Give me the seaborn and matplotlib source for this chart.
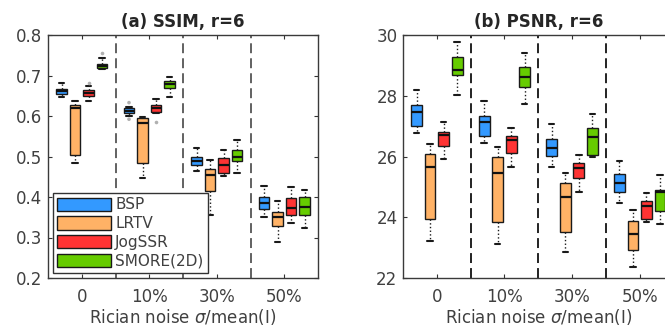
import numpy as np
import pandas as pd
import matplotlib
matplotlib.use("Agg")
import matplotlib.pyplot as plt
import seaborn as sns

sns.set_style("ticks")
plt.rcParams["font.family"] = ["DejaVu Sans"]

noise_levels = ["0", "10%", "30%", "50%"]
methods = ["BSP", "LRTV", "JogSSR", "SMORE(2D)"]
colors = ["#3399ff", "#ffb266", "#ff3333", "#66cc00"]

# five-number summaries per noise level: [low whisker, Q1, median, Q3, high whisker]
ssim_bsp = [[0.646, 0.655, 0.661, 0.667, 0.682],
            [0.600, 0.607, 0.613, 0.619, 0.623],
            [0.463, 0.478, 0.490, 0.498, 0.522],
            [0.350, 0.370, 0.385, 0.401, 0.428]]
ssim_lrtv = [[0.485, 0.504, 0.619, 0.627, 0.638],
             [0.447, 0.485, 0.582, 0.594, 0.598],
             [0.356, 0.414, 0.455, 0.469, 0.492],
             [0.288, 0.329, 0.350, 0.364, 0.391]]
ssim_jog = [[0.638, 0.650, 0.658, 0.664, 0.673],
            [0.607, 0.611, 0.619, 0.628, 0.642],
            [0.451, 0.459, 0.479, 0.496, 0.516],
            [0.337, 0.355, 0.373, 0.397, 0.424]]
ssim_smore = [[0.715, 0.718, 0.724, 0.728, 0.742],
              [0.647, 0.669, 0.678, 0.687, 0.696],
              [0.459, 0.490, 0.500, 0.516, 0.541],
              [0.323, 0.356, 0.375, 0.400, 0.418]]

psnr_bsp = [[26.79, 27.01, 27.48, 27.70, 28.19],
            [26.44, 26.66, 27.12, 27.32, 27.84],
            [25.67, 26.02, 26.27, 26.59, 27.06],
            [24.47, 24.82, 25.12, 25.43, 25.86]]
psnr_lrtv = [[23.21, 23.94, 25.67, 26.09, 26.42],
             [23.12, 23.86, 25.47, 25.98, 26.30],
             [22.85, 23.51, 24.68, 25.12, 25.45],
             [22.36, 22.91, 23.46, 23.88, 24.25]]
psnr_jog = [[25.91, 26.33, 26.71, 26.82, 27.14],
            [25.67, 26.11, 26.55, 26.68, 26.93],
            [24.82, 25.28, 25.62, 25.80, 26.05],
            [23.83, 23.94, 24.36, 24.52, 24.79]]
psnr_smore = [[28.03, 28.68, 28.85, 29.29, 29.76],
              [27.73, 28.28, 28.63, 28.96, 29.40],
              [26.00, 26.05, 26.64, 26.93, 27.40],
              [23.79, 24.19, 24.82, 24.90, 25.40]]

# isolated outliers: (noise level, method, value)
ssim_outliers = [("0", "JogSSR", 0.682), ("0", "SMORE(2D)", 0.755),
                 ("10%", "BSP", 0.633), ("10%", "BSP", 0.592),
                 ("10%", "JogSSR", 0.585)]
psnr_outliers = []


def long_form(series):
    rows = []
    for m, summaries in zip(methods, series):
        for lvl, vals in zip(noise_levels, summaries):
            for v in vals:
                rows.append({"noise": lvl, "method": m, "value": v})
    return pd.DataFrame(rows)


palette = dict(zip(methods, colors))
ink = "#404040"

fig = plt.figure(figsize=(6.65, 3.28), dpi=100)
ax1 = fig.add_axes([48 / 665, 50 / 328, 270 / 665, 243 / 328])
ax2 = fig.add_axes([403 / 665, 50 / 328, 270.5 / 665, 243 / 328])

panels = [
    (ax1, [ssim_bsp, ssim_lrtv, ssim_jog, ssim_smore], ssim_outliers,
     "(a) SSIM, r=6", (0.2, 0.8), np.arange(0.2, 0.81, 0.1), "#555555"),
    (ax2, [psnr_bsp, psnr_lrtv, psnr_jog, psnr_smore], psnr_outliers,
     "(b) PSNR, r=6", (22, 30), np.arange(22, 31, 2), "#111111"),
]

for i, (ax, series, outliers, title, ylim, yticks, dash_color) in enumerate(panels):
    df = long_form(series)
    sns.boxplot(data=df, x="noise", y="value", hue="method",
                order=noise_levels, hue_order=methods, palette=palette,
                saturation=1, width=0.8, gap=0.2, whis=(0, 100), fliersize=0,
                linecolor="#1a1a1a", linewidth=1.0,
                whiskerprops={"linestyle": ":", "linewidth": 1.0},
                capprops={"linewidth": 1.5},
                medianprops={"linewidth": 1.6, "color": "#111111"},
                legend=(i == 0), ax=ax)
    if outliers:
        odf = pd.DataFrame(outliers, columns=["noise", "method", "value"])
        sns.stripplot(data=odf, x="noise", y="value", hue="method",
                      order=noise_levels, hue_order=methods,
                      palette={m: "#b0b0b0" for m in methods},
                      dodge=True, jitter=False, size=2.6, legend=False,
                      ax=ax, zorder=3)

    for xd in [0.5, 1.5, 2.5]:
        ax.axvline(xd, color=dash_color, lw=1.3,
                   linestyle=(0, (5.5, 2.8)), zorder=1)

    ax.set_xlim(-0.5, 3.5)
    ax.set_ylim(*ylim)
    ax.set_yticks(yticks)
    if i == 0:
        ax.set_yticklabels([f"{t:.1f}" for t in yticks])
    else:
        ax.set_yticklabels([f"{t:.0f}" for t in yticks])
    ax.set_xticks(range(len(noise_levels)))
    ax.set_xticklabels(noise_levels)
    ax.tick_params(axis="both", direction="in", top=True, right=True,
                   length=3, width=0.8, color="#333333",
                   labelsize=12, labelcolor=ink)
    ax.tick_params(axis="x", pad=7)
    ax.tick_params(axis="y", pad=4)
    for sp in ax.spines.values():
        sp.set_visible(True)
        sp.set_color("#3a3a3a")
        sp.set_linewidth(1.0)
    ax.set_xlabel(r"Rician noise $\sigma$/mean(I)", fontsize=12,
                  color=ink, labelpad=1)
    ax.set_ylabel("")
    ax.set_title(title, fontsize=12, fontweight="bold", pad=6)

sns.move_legend(ax1, "lower left", title=None, fontsize=11,
                frameon=True, fancybox=False, framealpha=1,
                edgecolor="#333333", borderaxespad=0.3, borderpad=0.3,
                handlelength=3.5, handleheight=0.95, handletextpad=0.3,
                labelspacing=0.25)
leg = ax1.get_legend()
leg.get_frame().set_linewidth(1.0)
leg.set_zorder(5)
for h, c in zip(leg.legend_handles, colors):
    h.set_facecolor(c)
    h.set_edgecolor("#1a1a1a")
    h.set_linewidth(1.0)
for t in leg.get_texts():
    t.set_color(ink)

fig.savefig("out.png", dpi=100)
